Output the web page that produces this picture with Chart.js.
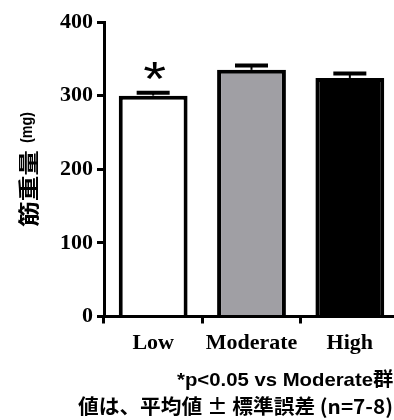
<!DOCTYPE html>
<html>
<head>
<meta charset="utf-8">
<script src="https://cdn.jsdelivr.net/npm/chart.js@4.4.0/dist/chart.umd.min.js"></script>
<style>
  html, body { margin: 0; padding: 0; background: #fff; overflow: hidden; }
</style>
</head>
<body>
<canvas id="chart" width="402" height="420"></canvas>
<script>
const categories = ['Low', 'Moderate', 'High'];
const means = [300, 335, 324];
const sems = [4, 6, 6];
const marks = ['*', '', ''];
const barColors = ['#ffffff', '#a09fa4', '#000000'];
const yTitle = ['筋重量', '(mg)'];
const notes = ['*p<0.05 vs Moderate群', '値は、平均値 ± 標準誤差 (n=7-8)'];

// draw text squeezed or stretched so that it fills a given width
function fitText(ctx, text, x, y, width, measured) {
	const w = ctx.measureText(measured || text).width;
	ctx.save();
	ctx.translate(x, y);
	ctx.scale(width / w, 1);
	ctx.fillText(text, 0, 0);
	ctx.restore();
}

// error bars, asterisk, rotated title and the notes under the chart
const extras = {
	id: 'extras',
	afterDatasetsDraw(chart) {
		const ctx = chart.ctx;
		const y = chart.scales.y;
		const meta = chart.getDatasetMeta(0);
		ctx.save();
		ctx.strokeStyle = '#000';
		ctx.fillStyle = '#000';
		meta.data.forEach((bar, i) => {
			const top = y.getPixelForValue(means[i] + sems[i]);
			ctx.lineWidth = 2;
			ctx.beginPath();
			ctx.moveTo(bar.x, bar.y);
			ctx.lineTo(bar.x, top);
			ctx.stroke();
			ctx.lineWidth = 4;
			ctx.beginPath();
			ctx.moveTo(bar.x - 16.5, top);
			ctx.lineTo(bar.x + 16.5, top);
			ctx.stroke();
			if (marks[i]) {
				ctx.font = '48px "Liberation Sans"';
				ctx.textAlign = 'left';
				ctx.textBaseline = 'alphabetic';
				const m = ctx.measureText(marks[i]);
				const w = m.actualBoundingBoxRight + m.actualBoundingBoxLeft;
				const h = m.actualBoundingBoxAscent + m.actualBoundingBoxDescent;
				ctx.save();
				ctx.translate(bar.x + 1 - 11, top - 22 - 8.5);
				ctx.scale(22 / w, 17 / h);
				ctx.fillText(marks[i], m.actualBoundingBoxLeft, m.actualBoundingBoxAscent);
				ctx.restore();
			}
		});
		ctx.restore();
	},
	afterDraw(chart) {
		const ctx = chart.ctx;
		ctx.save();
		ctx.fillStyle = '#000';
		ctx.textBaseline = 'middle';
		ctx.textAlign = 'left';

		// y axis title, reading bottom to top
		ctx.save();
		ctx.translate(28, 227);
		ctx.rotate(-Math.PI / 2);
		ctx.font = 'bold 21px "Noto Sans CJK JP"';
		fitText(ctx, yTitle[0], 0, 0, 77);
		ctx.font = 'bold 16px "Liberation Sans"';
		fitText(ctx, yTitle[1], 84, 0, 31);
		ctx.restore();

		// footnotes
		ctx.font = 'bold 19px "Liberation Sans", "Noto Sans CJK JP"';
		fitText(ctx, notes[0], 177, 381, 196, notes[0].slice(0, -1));
		ctx.font = 'bold 20px "Noto Sans CJK JP"';
		fitText(ctx, notes[1], 78, 406, 315);

		ctx.restore();
	}
};

const config = {
	type: 'bar',
	data: {
		labels: categories,
		datasets: [{
			data: means,
			backgroundColor: barColors,
			borderColor: '#000',
			borderWidth: 4,
			barPercentage: 0.7,
			categoryPercentage: 1.0,
		}]
	},
	options: {
		responsive: false,
		animation: false,
		layout: {
			padding: { top: 22, right: 3, bottom: 0, left: 0 }
		},
		plugins: {
			legend: { display: false },
			tooltip: { enabled: false },
		},
		scales: {
			x: {
				grid: {
					drawOnChartArea: false,
					drawTicks: true,
					tickLength: 7,
					lineWidth: 3,
					color: '#000',
				},
				border: { display: true, color: '#000', width: 3 },
				ticks: {
					color: '#000',
					padding: 7,
					font: { family: '"Liberation Serif"', size: 22, weight: 'bold' },
				},
				afterFit(scale) { scale.height = 103.5; }
			},
			y: {
				min: 0,
				max: 400,
				grid: {
					drawOnChartArea: false,
					drawTicks: true,
					tickLength: 7,
					lineWidth: 3,
					color: '#000',
				},
				border: { display: true, color: '#000', width: 3 },
				ticks: {
					stepSize: 100,
					color: '#000',
					padding: 4,
					font: { family: '"Liberation Serif"', size: 22, weight: 'bold' },
				},
				afterFit(scale) { scale.width = 104; }
			}
		}
	},
	plugins: [extras]
};

const chart = new Chart(document.getElementById('chart').getContext('2d'), config);
</script>
</body>
</html>
